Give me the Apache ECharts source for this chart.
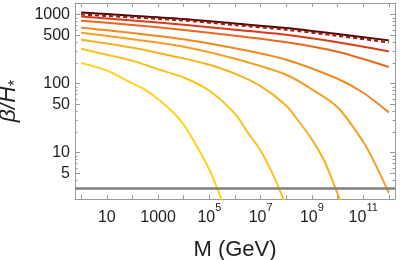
<!DOCTYPE html>
<html><head><meta charset="utf-8">
<script src="https://cdn.jsdelivr.net/npm/echarts@6/dist/echarts.min.js"></script>
<style>html,body{margin:0;padding:0;background:#fff}#c{width:400px;height:260px}</style>
</head><body><div id="c"></div>
<script>
// M (GeV) sample points and beta/H* values
const M_a = [1, 1e2, 1e4, 1e6, 1e8, 1e10, 1e12];
const c1 = [1080, 970, 866, 745, 641, 525, 425];
const c2 = [1010, 916, 827, 711, 606, 496, 397];
const c3 = [945, 827, 714, 607, 512, 399, 294];
const c4 = [818, 711, 603, 496, 399, 291, 175];
const M_c5 = [1, 1e2, 1e4, 1e6, 1e8, 1e10, 1e11, 1e12];
const c5 = [649, 545, 440, 327, 223, 118, 74, 38.4];
const M_c6 = [1, 1e2, 1e4, 1e6, 1e8, 1e9, 1e10, 1e11, 3.16e11, 1e12];
const c6 = [548, 442, 344, 230, 135, 83, 45.6, 14.4, 6.5, 2.6];
const M_c7 = [1, 1e2, 1e4, 1e5, 1e6, 1e7, 1e8, 3.16e8, 1e9, 3.16e9, 1e10, 1.58e10];
const c7 = [434, 333, 233, 188, 140, 92, 48, 28.1, 15.6, 7.4, 2.55, 1.65];
const M_c8 = [1, 10, 1e2, 1e3, 1e4, 1e5, 1e6, 3.16e6, 1e7, 3.16e7, 1e8];
const c8 = [321, 263, 215, 162, 123, 79, 36.7, 19.5, 10.7, 4.64, 1.65];
const M_c9 = [1, 10, 63.1, 275, 1070, 3980, 1e4, 2.75e4, 1e5, 2.0e5, 3.55e5];
const c9 = [200, 156, 110, 84, 58.7, 38, 25.5, 13.8, 5.7, 3.08, 1.76];
const thresholdLevel = 3;
const yTickLabels = [5, 10, 50, 100, 500, 1000];
const yTickFactors = [1, 2, 3, 4, 5, 6, 7, 8, 9];
const xTickLabelPowers = [1, 3, 5, 7, 9, 11];

const X_PAD = 0.24;                       // decades of padding on each side
const X_MIN = Math.pow(10, -X_PAD), X_MAX = Math.pow(10, 12 + X_PAD);
const Y_MIN = 2.13, Y_MAX = 1480;
const G_LEFT = 75, G_RIGHT = 5, G_TOP = 3, G_BOTTOM = 61;
const PLOT_W = 400 - G_LEFT - G_RIGHT;
// tick grid starts exactly at M = 1 so the decade ticks fall on whole powers
const TICK_LEFT = G_LEFT + PLOT_W * X_PAD / (12 + 2 * X_PAD);

const FONT = 'Liberation Sans, Arial, sans-serif';
const FRAME = '#9a9a9a';
const TXT = '#1e1e1e';

function pts(M, v) { return M.map((m, i) => [m, v[i]]); }
function isPow(v) { const l = Math.log10(v); return Math.abs(l - Math.round(l)) < 1e-6; }

const yAxes = [];
['left', 'right'].forEach(side => {
  yTickFactors.forEach(f => {
    const major = yTickLabels.some(t => isPow(t / f));
    yAxes.push({
      gridIndex: 0, type: 'log', position: side, min: Y_MIN / f, max: Y_MAX / f,
      axisLine: { show: f === 1, lineStyle: { color: FRAME, width: 1 } },
      axisTick: { show: true, inside: true, length: major ? 5 : 2.5, lineStyle: { color: FRAME } },
      splitLine: { show: false },
      axisLabel: {
        show: side === 'left' && major, margin: 5, color: TXT, fontSize: 16, fontFamily: FONT,
        formatter: v => {
          if (!isPow(v)) return '';
          const val = Math.round(f * Math.pow(10, Math.round(Math.log10(v))));
          return yTickLabels.includes(val) ? String(val) : '';
        }
      },
      name: (side === 'left' && f === 1) ? '{i|β/H}{s|*}' : '',
      nameLocation: 'middle', nameRotate: 90, nameGap: 42,
      nameTextStyle: {
        rich: {
          i: { fontSize: 23, fontStyle: 'italic', fontFamily: FONT, color: TXT, lineHeight: 30 },
          s: { fontSize: 16, fontFamily: FONT, color: TXT, verticalAlign: 'bottom', lineHeight: 18 }
        }
      }
    });
  });
});
// hidden y axis for the tick grid
yAxes.push({ gridIndex: 1, type: 'log', min: Y_MIN, max: Y_MAX, show: false });

const frameAxis = {
  gridIndex: 0, type: 'log', min: X_MIN, max: X_MAX,
  axisLine: { show: true, lineStyle: { color: FRAME, width: 1 } },
  axisTick: { show: false }, axisLabel: { show: false }, splitLine: { show: false }
};
const tickAxis = {
  gridIndex: 1, type: 'log', min: 1, max: X_MAX, interval: 1,
  axisLine: { show: false },
  axisTick: { show: true, inside: true, length: 4, lineStyle: { color: FRAME } },
  splitLine: { show: false }
};

const lineSeries = (name, M, v, color, extra) => Object.assign({
  name, type: 'line', xAxisIndex: 0, yAxisIndex: 0, data: pts(M, v), showSymbol: false, symbol: 'none',
  smooth: 0.3, clip: true,
  lineStyle: { color, width: 2 }, z: 3
}, extra || {});

const option = {
  animation: false,
  grid: [
    { left: G_LEFT, right: G_RIGHT, top: G_TOP, bottom: G_BOTTOM, containLabel: false, outerBoundsMode: 'none' },
    { left: TICK_LEFT, right: G_RIGHT, top: G_TOP, bottom: G_BOTTOM, containLabel: false, outerBoundsMode: 'none' }
  ],
  xAxis: [
    Object.assign({}, frameAxis, {
      position: 'bottom',
      name: 'M (GeV)', nameLocation: 'middle', nameGap: 40,
      nameTextStyle: { fontSize: 22, fontFamily: FONT, color: TXT }
    }),
    Object.assign({}, frameAxis, { position: 'top' }),
    Object.assign({}, tickAxis, {
      position: 'bottom',
      axisLabel: {
        color: TXT, fontSize: 16, fontFamily: FONT, margin: 3,
        formatter: v => {
          if (!isPow(v)) return '';
          const k = Math.round(Math.log10(v));
          if (!xTickLabelPowers.includes(k)) return '';
          return k <= 3 ? '{b|' + Math.pow(10, k) + '}' : '{b|10}{s|' + k + '}';
        },
        rich: {
          b: { fontSize: 16, fontFamily: FONT, color: TXT, lineHeight: 24, verticalAlign: 'bottom' },
          s: { fontSize: 11, fontFamily: FONT, color: TXT, lineHeight: 12, verticalAlign: 'top' }
        }
      }
    }),
    Object.assign({}, tickAxis, { position: 'top', axisLabel: { show: false } })
  ],
  yAxis: yAxes,
  series: [
    lineSeries('c9', M_c9, c9, '#ffd21c'),
    lineSeries('c8', M_c8, c8, '#fcc21d'),
    lineSeries('c7', M_c7, c7, '#f9b01e'),
    lineSeries('c6', M_c6, c6, '#f69e1f'),
    lineSeries('c5', M_c5, c5, '#f2891f'),
    lineSeries('c4', M_a, c4, '#ea671e'),
    lineSeries('c3', M_a, c3, '#d93b1c'),
    lineSeries('c1', M_a, c1, '#4e0909'),
    lineSeries('c2', M_a, c2, '#a3180f', { lineStyle: { color: '#a3180f', width: 2.2, type: [4, 3] }, z: 4 }),
    {
      name: 'threshold', type: 'line', xAxisIndex: 0, yAxisIndex: 0, data: [], z: 5,
      markLine: {
        silent: true, symbol: ['none', 'none'], label: { show: false },
        lineStyle: { color: '#7f7f7f', width: 2.5, type: 'solid' },
        data: [{ yAxis: thresholdLevel }]
      }
    }
  ]
};
echarts.init(document.getElementById('c'), null, { renderer: 'canvas' }).setOption(option);
</script></body></html>
